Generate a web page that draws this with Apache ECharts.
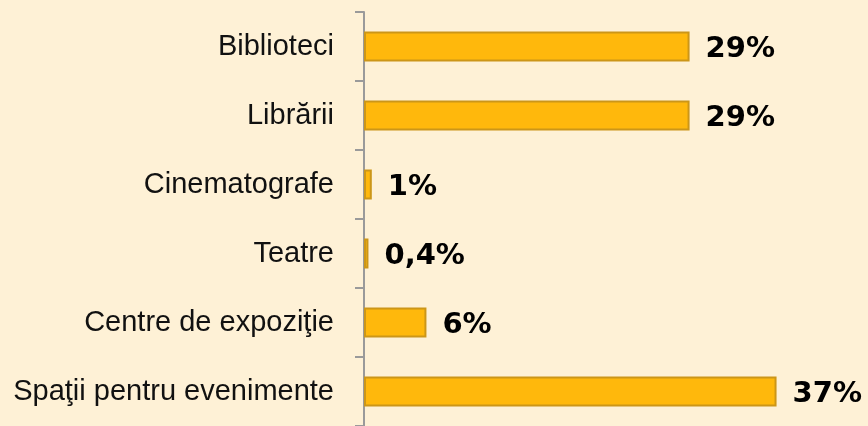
<!DOCTYPE html>
<html lang="ro">
<head>
    <meta charset="UTF-8">
    <title>Spaţii</title>
    <script src="https://cdn.jsdelivr.net/npm/echarts@6/dist/echarts.min.js"></script>
    <style>
        html, body { margin: 0; padding: 0; background: #FEF1D6; }
        #chart { width: 868px; height: 426px; }
    </style>
</head>
<body>
<div id="chart"></div>
<script type="text/javascript">
    // categorii, de sus in jos
    var categories = ['Biblioteci', 'Librării', 'Cinematografe', 'Teatre', 'Centre de expoziţie', 'Spaţii pentru evenimente'];
    // valori estimate din lungimea barelor (%)
    var values = [29.2, 29.2, 0.7, 0.4, 5.6, 37];
    // etichetele afisate
    var labels = ['29%', '29%', '1%', '0,4%', '6%', '37%'];

    var myChart = echarts.init(document.getElementById('chart'));

    myChart.setOption({
        backgroundColor: '#FEF1D6',
        animation: false,
        grid: {
            left: 364,
            right: 58,
            top: 12,
            bottom: -3.6
        },
        xAxis: {
            type: 'value',
            min: 0,
            max: 40,
            show: false
        },
        yAxis: {
            type: 'category',
            inverse: true,
            data: categories,
            axisLine: { show: true, lineStyle: { color: '#9a9a9a', width: 2 } },
            axisTick: { show: true, alignWithLabel: false, length: 9, lineStyle: { color: '#9a9a9a', width: 2 } },
            axisLabel: {
                margin: 30,
                color: '#111',
                fontFamily: 'Liberation Sans',
                fontSize: 29
            }
        },
        series: [{
            type: 'bar',
            data: values,
            barWidth: 30,
            itemStyle: {
                color: '#FFB80C',
                borderColor: '#CC9618',
                borderWidth: 2
            },
            label: {
                show: true,
                position: 'right',
                distance: 16,
                offset: [0, 3],
                color: '#000',
                fontFamily: 'DejaVu Sans',
                fontWeight: 'bold',
                fontSize: 29,
                formatter: function (p) { return labels[p.dataIndex]; }
            }
        }]
    });
</script>
</body>
</html>
